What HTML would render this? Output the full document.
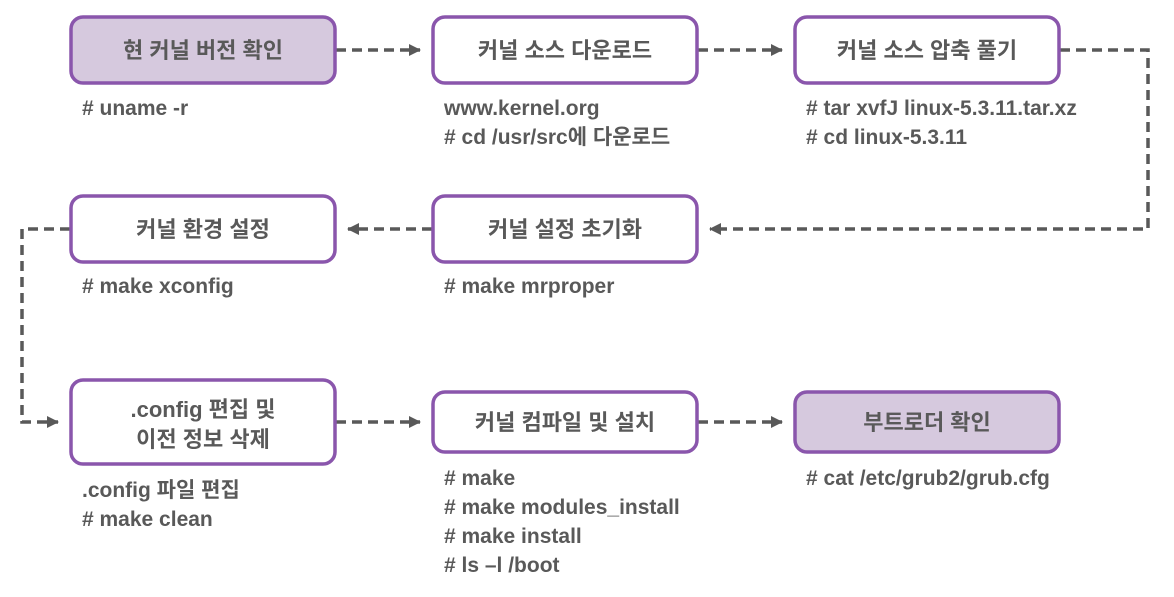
<!DOCTYPE html>
<html><head><meta charset="utf-8"><style>
body{margin:0;background:#fff;}
svg text{font-family:"Liberation Sans","Noto Sans CJK KR",sans-serif;font-weight:bold;fill:#595959;}
</style></head><body>
<svg width="1174" height="592" xmlns="http://www.w3.org/2000/svg">
<defs><marker id="a" markerWidth="8" markerHeight="8" refX="7" refY="4" orient="auto" markerUnits="userSpaceOnUse" viewBox="0 0 8 8"><path d="M0,0 L8,4 L0,8 z" fill="#595959"/></marker>
<marker id="b" markerWidth="12" markerHeight="12" refX="11" refY="6" orient="auto" markerUnits="userSpaceOnUse" viewBox="0 0 12 12"><path d="M0,0 L12,6 L0,12 z" fill="#595959"/></marker></defs>
<g fill="none" stroke="#595959" stroke-width="3.5" stroke-dasharray="10,6">
<path d="M336,50 H420" marker-end="url(#b)"/>
<path d="M698,50 H782" marker-end="url(#b)"/>
<path d="M1060,50 H1148 V229 H710" marker-end="url(#b)"/>
<path d="M432,229 H348" marker-end="url(#b)"/>
<path d="M70,229 H22 V422 H58" marker-end="url(#b)"/>
<path d="M336,422 H420" marker-end="url(#b)"/>
<path d="M698,422 H782" marker-end="url(#b)"/>
</g>
<g stroke="#8a56ac" stroke-width="3.5">
<rect x="71" y="17" width="264" height="66" rx="12" fill="#d6c9de"/>
<rect x="433" y="17" width="264" height="66" rx="12" fill="#fff"/>
<rect x="795" y="17" width="264" height="66" rx="12" fill="#fff"/>
<rect x="71" y="196" width="264" height="66" rx="12" fill="#fff"/>
<rect x="433" y="196" width="264" height="66" rx="12" fill="#fff"/>
<rect x="71" y="380" width="264" height="84" rx="12" fill="#fff"/>
<rect x="433" y="392" width="264" height="60" rx="12" fill="#fff"/>
<rect x="795" y="392" width="264" height="60" rx="12" fill="#d6c9de"/>
</g>
<g font-size="22" text-anchor="middle">
<text x="203" y="58">현 커널 버전 확인</text>
<text x="565" y="58">커널 소스 다운로드</text>
<text x="927" y="58">커널 소스 압축 풀기</text>
<text x="203" y="237">커널 환경 설정</text>
<text x="565" y="237">커널 설정 초기화</text>
<text x="203" y="417">.config 편집 및</text>
<text x="203" y="447">이전 정보 삭제</text>
<text x="565" y="430">커널 컴파일 및 설치</text>
<text x="927" y="430">부트로더 확인</text>
</g>
<g font-size="21">
<text x="82" y="115"># uname -r</text>
<text x="444" y="115">www.kernel.org</text>
<text x="444" y="144"># cd /usr/src에 다운로드</text>
<text x="806" y="115"># tar xvfJ linux-5.3.11.tar.xz</text>
<text x="806" y="144"># cd linux-5.3.11</text>
<text x="82" y="293"># make xconfig</text>
<text x="444" y="293"># make mrproper</text>
<text x="82" y="497">.config 파일 편집</text>
<text x="82" y="526"># make clean</text>
<text x="444" y="485"># make</text>
<text x="444" y="514"># make modules_install</text>
<text x="444" y="543"># make install</text>
<text x="444" y="572"># ls –l /boot</text>
<text x="806" y="485"># cat /etc/grub2/grub.cfg</text>
</g>
</svg>
</body></html>
